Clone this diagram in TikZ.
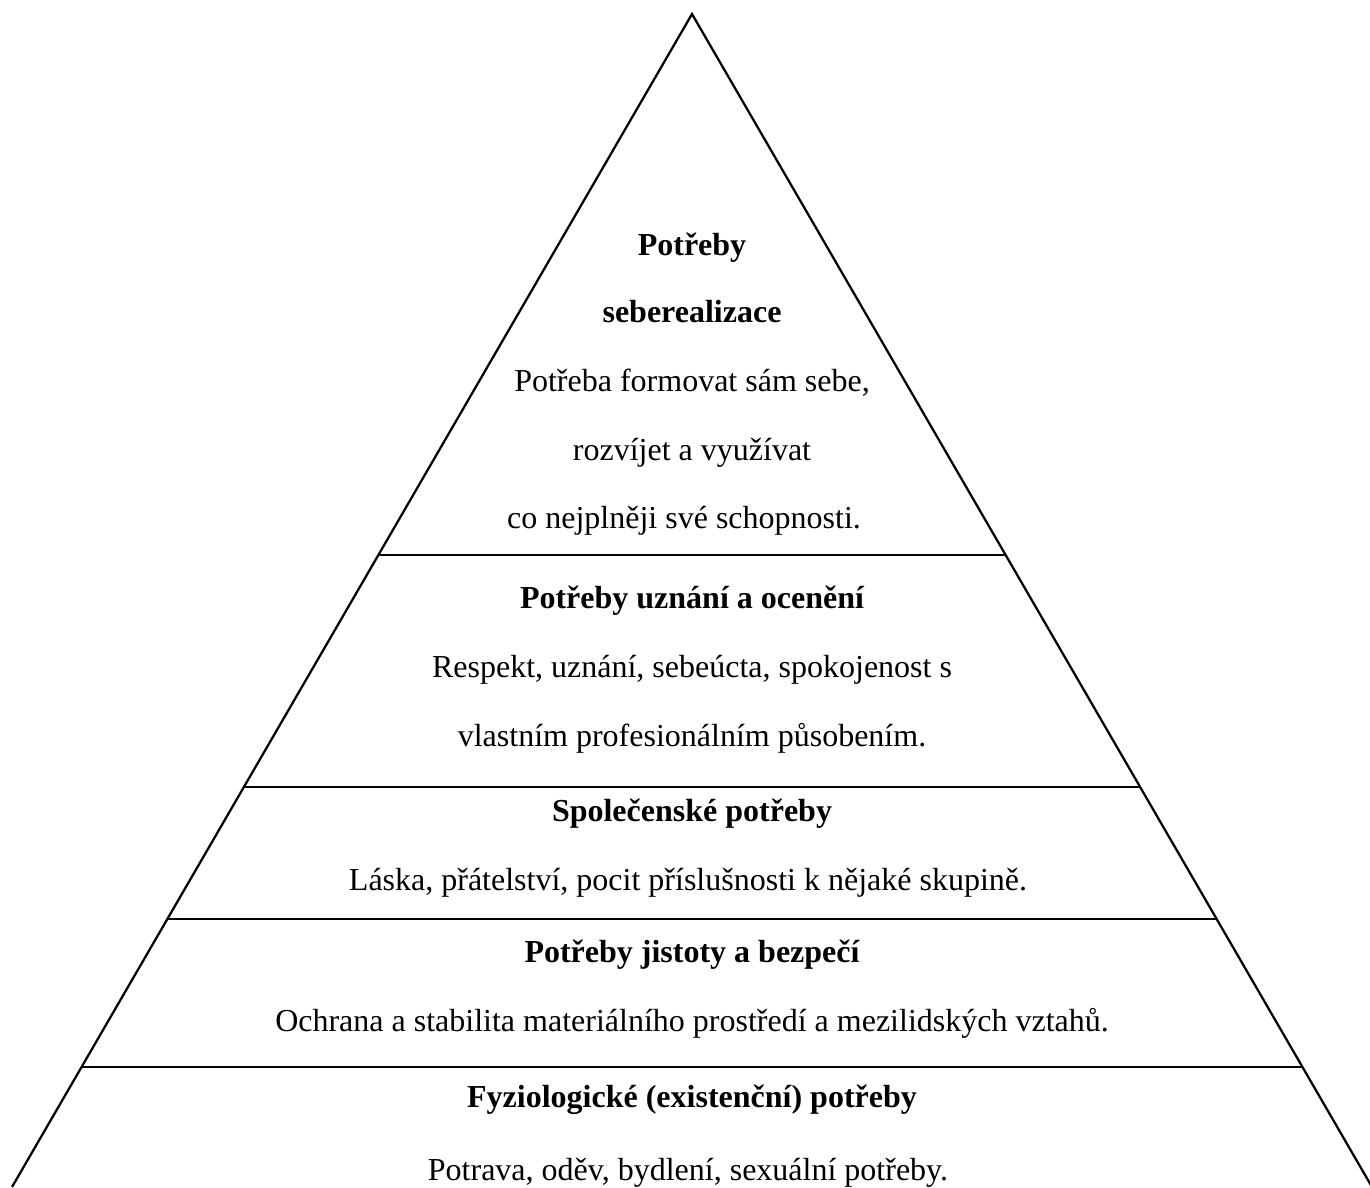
\documentclass[tikz,border=0pt]{standalone}
\usepackage{fontspec}
\setmainfont{Liberation Serif}
\usetikzlibrary{calc}
\tikzset{
  hrana/.style={line width=0.9pt},
  nadpis/.style={anchor=base,inner sep=0pt,font=\fontsize{12.8}{15}\selectfont\bfseries},
  popis/.style={anchor=base,inner sep=0pt,font=\fontsize{12.8}{15}\selectfont},
}

\begin{document}
\begin{tikzpicture}[x=0.4pt,y=-0.4pt]
  \useasboundingbox (0,0) rectangle (1370,1187);
  % obrys pyramidy
  \coordinate (vrchol) at (692,14);
  \coordinate (zakL) at (12,1187);
  \coordinate (zakP) at (1372,1187);
  \draw[hrana] (zakL) -- (vrchol) -- (zakP);
  % deleni na patra
  \foreach \t/\n in {0.4612/a,0.6590/b,0.7715/c,0.8977/d}{
    \coordinate (L\n) at ($(vrchol)!\t!(zakL)$);
    \coordinate (P\n) at ($(vrchol)!\t!(zakP)$);
    \draw[hrana] (L\n) -- (P\n);
  }
  % seberealizace
  \node[nadpis] (sr1) at (692,255) {Potřeby};
  \node[nadpis] (sr2) at (692,322) {seberealizace};
  \node[popis] (sr3) at (692,391) {Potřeba formovat sám sebe,};
  \node[popis] (sr4) at (692,460) {rozvíjet a využívat};
  \node[popis] (sr5) at (684,528) {co nejplněji své schopnosti.};
  % uznani
  \node[nadpis] (uz1) at (692,608) {Potřeby uznání a ocenění};
  \node[popis] (uz2) at (692,677) {Respekt, uznání, sebeúcta, spokojenost s};
  \node[popis] (uz3) at (692,746) {vlastním profesionálním působením.};
  % spolecenske
  \node[nadpis] (sp1) at (692,821) {Společenské potřeby};
  \node[popis] (sp2) at (688,890) {Láska, přátelství, pocit příslušnosti k nějaké skupině.};
  % jistota
  \node[nadpis] (ji1) at (692,962) {Potřeby jistoty a bezpečí};
  \node[popis] (ji2) at (692,1031) {Ochrana a stabilita materiálního prostředí a mezilidských vztahů.};
  % fyziologicke
  \node[nadpis] (fy1) at (692,1107) {Fyziologické (existenční) potřeby};
  \node[popis] (fy2) at (688,1180) {Potrava, oděv, bydlení, sexuální potřeby.};
\end{tikzpicture}
\end{document}
